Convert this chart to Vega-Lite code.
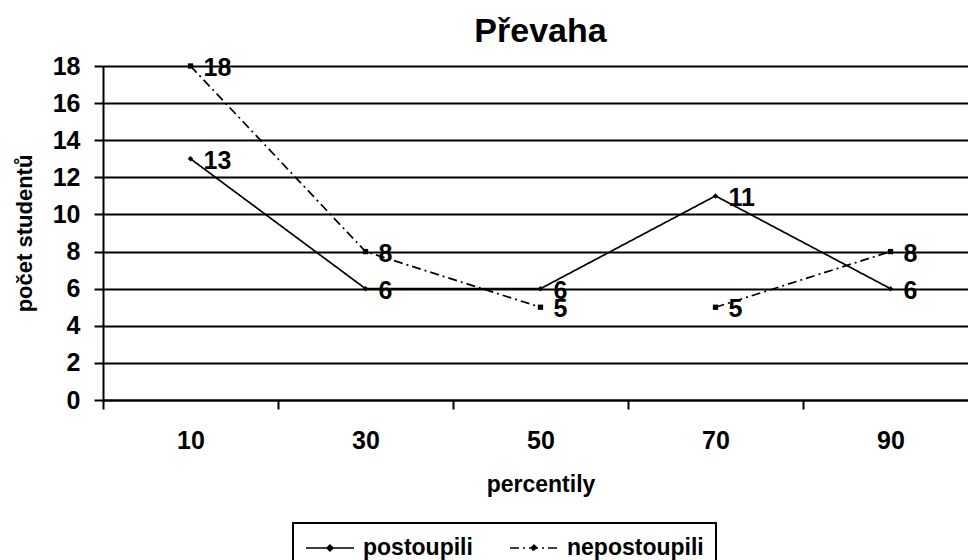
{
  "$schema": "https://vega.github.io/schema/vega-lite/v6.json",
  "autosize": {"type": "none"},
  "width": 875,
  "height": 334,
  "padding": {"left": 103, "top": 66, "right": 0, "bottom": 160},
  "background": "white",
  "title": {"text": "Převaha", "fontSize": 34, "fontWeight": "bold", "font": "Liberation Sans", "color": "black", "anchor": "middle", "frame": "group", "offset": 5},
  "config": {
    "font": "Liberation Sans",
    "view": {"stroke": null},
    "legend": {"strokeWidth": 2},
    "axis": {"labelFont": "Liberation Sans", "labelFontWeight": "bold", "labelColor": "black", "titleFont": "Liberation Sans", "titleFontWeight": "bold", "titleColor": "black"}
  },
  "data": {"values": [
    {"p": "10", "series": "postoupili", "v": 13, "part": "a"},
    {"p": "30", "series": "postoupili", "v": 6, "part": "a"},
    {"p": "50", "series": "postoupili", "v": 6, "part": "a"},
    {"p": "70", "series": "postoupili", "v": 11, "part": "a"},
    {"p": "90", "series": "postoupili", "v": 6, "part": "a"},
    {"p": "10", "series": "nepostoupili", "v": 18, "part": "a"},
    {"p": "30", "series": "nepostoupili", "v": 8, "part": "a"},
    {"p": "50", "series": "nepostoupili", "v": 5, "part": "a"},
    {"p": "70", "series": "nepostoupili", "v": 5, "part": "b"},
    {"p": "90", "series": "nepostoupili", "v": 8, "part": "b"}
  ]},
  "encoding": {
    "x": {"field": "p", "type": "ordinal", "sort": null,
      "scale": {"paddingInner": 0, "paddingOuter": 0},
      "axis": {"title": "percentily", "titleFontSize": 23, "titlePadding": 20, "labelAngle": 0, "labelFontSize": 25, "labelPadding": 19, "tickBand": "extent", "tickSize": 9, "tickColor": "black", "tickWidth": 2, "domainColor": "black", "domainWidth": 2, "grid": false}},
    "y": {"field": "v", "type": "quantitative",
      "scale": {"domain": [0, 18], "nice": false},
      "axis": {"title": "počet studentů", "titleFontSize": 22, "titlePadding": 16, "values": [0,2,4,6,8,10,12,14,16,18], "labelFontSize": 25, "labelPadding": 14, "tickSize": 9, "tickColor": "black", "tickWidth": 2, "domainColor": "black", "domainWidth": 2, "gridColor": "black", "gridWidth": 2, "gridOpacity": 1}}
  },
  "layer": [
    {
      "mark": {"type": "line", "color": "black", "strokeWidth": 1.7},
      "encoding": {
        "detail": {"field": "part"},
        "strokeDash": {"field": "series", "type": "nominal",
          "scale": {"domain": ["postoupili", "nepostoupili"], "range": [[1, 0], [9, 4, 2, 4]]},
          "legend": {"title": null, "orient": "none", "legendX": 190, "legendY": 457, "direction": "horizontal",
            "strokeColor": "black", "padding": 12, "labelFontSize": 23, "labelFontWeight": "bold", "labelFont": "Liberation Sans", "labelColor": "black",
            "symbolType": "M-1,0H3M0.76,0L1,-0.24L1.24,0L1,0.24Z", "symbolSize": 576, "symbolStrokeColor": "black", "symbolStrokeWidth": 1.7, "symbolFillColor": "black", "columnPadding": 33, "labelOffset": 32}}
      }
    },
    {
      "transform": [{"filter": "datum.series === 'postoupili'"}],
      "mark": {"type": "point", "filled": true, "color": "black", "opacity": 1, "size": 30, "shape": "diamond"}
    },
    {
      "transform": [{"filter": "datum.series === 'nepostoupili'"}],
      "mark": {"type": "point", "filled": true, "color": "black", "opacity": 1, "size": 28, "shape": "square"}
    },
    {
      "mark": {"type": "text", "align": "left", "baseline": "middle", "dx": 13, "dy": 2, "fontSize": 25, "fontWeight": "bold", "font": "Liberation Sans", "color": "black"},
      "encoding": {"text": {"field": "v", "type": "quantitative"}}
    }
  ]
}
